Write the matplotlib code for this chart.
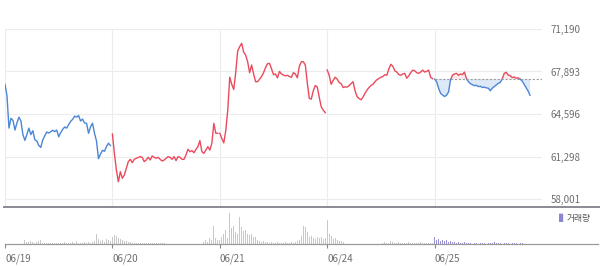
import numpy as np, matplotlib
matplotlib.use("Agg"); import matplotlib.pyplot as plt
from matplotlib.lines import Line2D

plt.rcParams['font.family'] = ['Noto Sans CJK KR', 'DejaVu Sans']

days = ["06/19", "06/20", "06/21", "06/24", "06/25"]
day_up = [False, True, True, True, None]   # last day is coloured against prev close
pts_per_day = 54
prev_close = 67300
y_ticks = [58001, 61298, 64596, 67893, 71190]

price_0619 = [66900, 66000, 63500, 64260, 64100, 63350, 63900, 64350, 64050, 63000,
              62550, 63000, 63500, 63000, 63300, 62600, 62500, 62150, 62000, 62600,
              62900, 63200, 63120, 63230, 63330, 63230, 63350, 62830, 63150, 63400,
              63590, 63500, 63780, 64020, 64180, 64430, 64350, 64480, 64050, 64200,
              63900, 63880, 63100, 63600, 63880, 63100, 62500, 61130, 61480, 61780,
              61700, 62060, 62330, 62150]
price_0620 = [63040, 61550, 60250, 59340, 60120, 59610, 59860, 60380, 60900, 61080,
              60820, 61080, 61160, 61220, 61290, 61220, 60900, 61030, 61240, 61030,
              61340, 61230, 61160, 61230, 61080, 60950, 61020, 61160, 61290, 61230,
              61080, 61290, 60980, 61290, 61230, 61080, 61080, 61420, 61860, 61670,
              61750, 61590, 61850, 62060, 62530, 61670, 61540, 61800, 62060, 61800,
              62320, 63870, 63100, 63100]
price_0621 = [63100, 62700, 62350, 63300, 64900, 67450, 66900, 66500, 67800, 69500,
              69820, 70080, 69400, 69170, 68650, 67800, 68400, 67700, 67100, 67100,
              67300, 67500, 67800, 68200, 68500, 68520, 68100, 67650, 67700, 67400,
              67900, 67700, 67620, 67550, 67600, 67500, 67440, 67800, 67700, 67400,
              68300, 68650, 68650, 68400, 67000, 65800, 65750, 66400, 66800, 66700,
              65900, 65150, 64900, 64700]
price_0624 = [68010, 67600, 66900, 67200, 67450, 67300, 67050, 66950, 66650, 66700,
              66680, 66800, 66950, 67100, 66400, 65950, 65800, 65700, 65900, 66200,
              66450, 66650, 66800, 66900, 67100, 67250, 67350, 67450, 67500, 67650,
              67600, 68100, 68450, 68300, 67950, 67850, 67650, 67600, 67700, 67750,
              67370, 67550, 67800, 68000, 67950, 67800, 67750, 67850, 68000, 67850,
              67900, 68000, 67450, 67330]
price_0625 = [67300, 67100, 66600, 66200, 66070, 65950, 66050, 66300, 67230, 67620,
              67700, 67750, 67600, 67700, 67650, 67850, 67350, 67100, 66950, 66870,
              66800, 66820, 66720, 66750, 66650, 66680, 66620, 66600, 66400, 66600,
              66720, 66850, 66970, 67050, 67300, 67750, 67830, 67620, 67580, 67420,
              67470, 67370, 67400, 67300, 67160, 66900, 66640, 66380, 66050]

vol_0619 = [2, 4, 11, 6, 4, 3, 4, 3, 3, 2, 4, 2, 2, 3, 2, 1, 2, 3, 4, 1,
            1, 1, 1, 1, 1, 1, 1, 1, 1, 1, 2, 1, 1, 1, 2, 1, 3, 1, 1, 1,
            2, 1, 2, 1, 2, 3, 10, 5, 3, 4, 2, 5, 4, 3]
vol_0620 = [7, 9, 8, 6, 5, 4, 3, 3, 2, 2, 1, 1, 1, 1, 1, 1, 1, 1, 1, 1,
            1, 1, 1, 1, 1, 1, 1, 1, 1, 1, 1, 1, 1, 2, 1, 1, 2, 1, 2, 1,
            3, 2, 1, 3, 5, 3, 2, 4, 2, 6, 4, 18, 6, 4]
vol_0621 = [4, 7, 10, 14, 6, 31, 16, 18, 12, 10, 27, 17, 13, 14, 10, 9, 10, 7, 7, 4,
            3, 2, 3, 2, 2, 1, 2, 1, 1, 2, 1, 1, 1, 2, 1, 1, 2, 1, 2, 3,
            4, 8, 18, 17, 12, 7, 8, 6, 5, 7, 6, 7, 5, 6]
vol_0624 = [24, 10, 8, 5, 6, 4, 3, 3, 2, 2, 3, 2, 1, 2, 1, 1, 1, 2, 1, 1,
            1, 1, 1, 1, 1, 2, 1, 1, 1, 2, 1, 1, 3, 2, 1, 1, 2, 1, 1, 1,
            1, 2, 1, 1, 1, 1, 1, 2, 1, 1, 1, 1, 1, 1]
vol_0625 = [7, 4, 5, 3, 4, 3, 4, 2, 3, 2, 2, 1, 2, 1, 1, 2, 1, 1, 1, 0,
            1, 1, 0, 1, 1, 1, 0, 1, 1, 1, 2, 1, 1, 1, 0, 1, 1, 1, 0, 1,
            1, 1, 0, 1, 1, 1, 0, 1, 1]

prices = [price_0619, price_0620, price_0621, price_0624, price_0625]
vols = [vol_0619, vol_0620, vol_0621, vol_0624, vol_0625]

RED, BLUE = "#ea4a5b", "#4a86d6"
GRAY_TXT = "#6e6e6e"

W, H = 600, 266
fig = plt.figure(figsize=(W / 100, H / 100), dpi=100)
ax = fig.add_axes([5 / W, 1 - 207 / H, 537 / W, 178 / H])
axv = fig.add_axes([5 / W, 1 - 244 / H, 537 / W, 32 / H])


def split_at(xs, ys, base):
    X, Y = [xs[0]], [ys[0]]
    for i in range(1, len(xs)):
        y0, y1 = ys[i - 1], ys[i]
        if (y0 - base) * (y1 - base) < 0:
            t = (base - y0) / (y1 - y0)
            X.append(xs[i - 1] + t * (xs[i] - xs[i - 1])); Y.append(base)
        X.append(xs[i]); Y.append(ys[i])
    return np.array(X), np.array(Y, dtype=float)


for d, (p, v) in enumerate(zip(prices, vols)):
    x = d + np.arange(len(p)) / pts_per_day
    p = np.array(p, dtype=float)
    if day_up[d] is None:
        X, Y = split_at(x, p, prev_close)
        ax.fill_between(X, Y, prev_close, where=Y <= prev_close, color="#dde9f8", lw=0, interpolate=True)
        ax.fill_between(X, Y, prev_close, where=Y >= prev_close, color="#fdeaec", lw=0, interpolate=True)
        ax.plot(X, np.where(Y >= prev_close, Y, np.nan), color=RED, lw=1.0)
        ax.plot(X, np.where(Y <= prev_close, Y, np.nan), color=BLUE, lw=1.0)
        ax.hlines(prev_close, d, len(days), colors="#a0a0a0", linestyles=(0, (2, 1.5)), lw=0.8)
        bar_c = "#9893d6"
    else:
        ax.plot(x, p, color=RED if day_up[d] else BLUE, lw=1.0)
        bar_c = "#c8c8c8"
    axv.bar(x, v, width=0.4 / pts_per_day, color=bar_c, lw=0)

ax.set_xlim(0, len(days))
ax.set_ylim(57380, 71190)
ax.set_xticks(range(len(days)))
ax.set_yticks(y_ticks)
ax.set_yticklabels([f"{t:,}" for t in y_ticks])
ax.yaxis.tick_right()
ax.tick_params(axis="y", length=0, pad=6, labelsize=7, labelcolor=GRAY_TXT)
ax.tick_params(axis="x", length=0, labelbottom=False)
ax.grid(True, color="#ececec", lw=0.8)
ax.set_axisbelow(True)
for s in ax.spines.values():
    s.set_visible(False)

axv.set_xlim(0, len(days))
axv.set_ylim(0, 32)
axv.set_yticks([])
axv.set_xticks(range(len(days)))
axv.set_xticklabels(days, ha="left")
axv.tick_params(axis="x", length=3, width=0.8, color="#888888", pad=4, labelsize=7, labelcolor=GRAY_TXT)
for s in axv.spines.values():
    s.set_visible(False)

# panel separators
fig.add_artist(Line2D([4 / W, 1], [1 - 207 / H] * 2, color="#8a8a96", lw=1.4))
fig.add_artist(Line2D([5 / W, 598 / W], [1 - 244 / H] * 2, color="#9a9a9a", lw=0.9))

fig.text(559 / W, 1 - 218 / H, "▌", color="#8a86d0", fontsize=6, va="center", ha="left")
fig.text(567 / W, 1 - 218 / H, "거래량", color="#555555", fontsize=6.3, va="center", ha="left")

fig.savefig("out.png", dpi=100)
